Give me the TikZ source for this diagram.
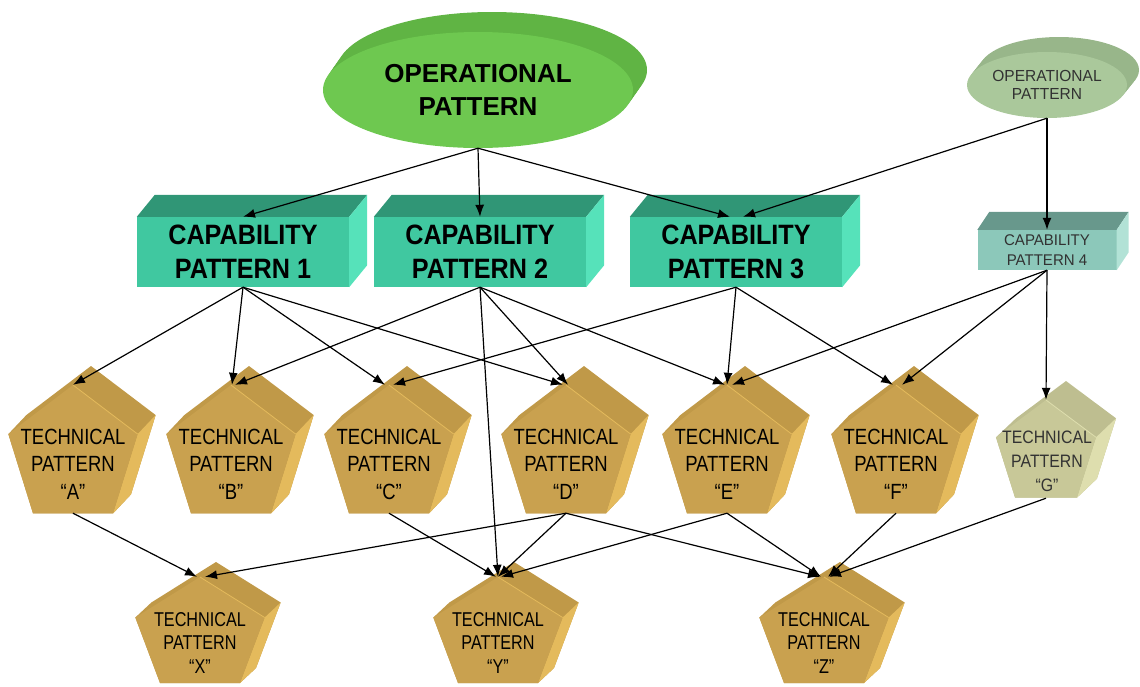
\documentclass[tikz,border=0pt]{standalone}
\usepackage{fontspec}
\setmainfont{Liberation Sans}
\newfontfamily\fOp{Liberation Sans}
\newfontfamily\fCap{Liberation Sans}[FakeStretch=0.9]
\newfontfamily\fTech{Liberation Sans}[FakeStretch=0.84]
\newfontfamily\fTechB{Liberation Sans}[FakeStretch=0.81]
\newfontfamily\fSmall{Liberation Sans}[FakeStretch=0.97]
\newfontfamily\fGee{Liberation Sans}[FakeStretch=0.88]
\usetikzlibrary{shapes.geometric,arrows.meta,calc}
\definecolor{opfront}{RGB}{110,200,80}
\definecolor{opback}{RGB}{96,180,68}
\definecolor{optwofront}{RGB}{170,200,155}
\definecolor{optwoback}{RGB}{152,182,138}
\definecolor{capfront}{RGB}{64,200,160}
\definecolor{captop}{RGB}{48,150,118}
\definecolor{capside}{RGB}{86,226,186}
\definecolor{capfourfront}{RGB}{140,200,186}
\definecolor{capfourtop}{RGB}{104,152,140}
\definecolor{capfourside}{RGB}{178,226,214}
\definecolor{tfront}{RGB}{201,161,79}
\definecolor{ttop}{RGB}{192,153,72}
\definecolor{tside}{RGB}{228,186,92}
\definecolor{gfront}{RGB}{200,200,152}
\definecolor{gtop}{RGB}{190,190,144}
\definecolor{gside}{RGB}{222,222,174}
\definecolor{smalltext}{RGB}{50,50,50}
\newcommand\pentprism[9]{%
  \pgfmathsetmacro\pAx{#1}\pgfmathsetmacro\pAy{#2-#4}%
  \pgfmathsetmacro\pBx{#1+0.951*#3}\pgfmathsetmacro\pBy{#2-0.309*#4}%
  \pgfmathsetmacro\pCx{#1+0.588*#3}\pgfmathsetmacro\pCy{#2+0.809*#4}%
  \pgfmathsetmacro\pDx{#1-0.588*#3}\pgfmathsetmacro\pDy{#2+0.809*#4}%
  \pgfmathsetmacro\pEx{#1-0.951*#3}\pgfmathsetmacro\pEy{#2-0.309*#4}%
  \fill[#8] (\pEx,\pEy) -- ({\pEx+(#5)},{\pEy+(#6)}) -- ({\pAx+(#5)},{\pAy+(#6)})
     -- ({\pBx+(#5)},{\pBy+(#6)}) -- ({\pCx+(#5)},{\pCy+(#6)}) -- (\pCx,\pCy) -- (\pDx,\pDy) -- cycle;
  \fill[#9] (\pBx,\pBy) -- ({\pBx+(#5)},{\pBy+(#6)}) -- ({\pCx+(#5)},{\pCy+(#6)}) -- (\pCx,\pCy) -- cycle;
  \fill[#7] (\pAx,\pAy) -- (\pBx,\pBy) -- (\pCx,\pCy) -- (\pDx,\pDy) -- (\pEx,\pEy) -- cycle;
  \draw[#9, line width=0.8pt] (\pAx,\pAy) -- (\pBx,\pBy);
}
\newcommand\boxfaces[5]{%
  \fill[#4] (#1.north west) -- (#1.north east) -- ($(#1.north east)+(#2,#3)$) -- ($(#1.north west)+(#2,#3)$) -- cycle;
  \fill[#5] (#1.north east) -- ($(#1.north east)+(#2,#3)$) -- ($(#1.south east)+(#2,#3)$) -- (#1.south east) -- cycle;
}
\tikzset{
  conn/.style={-{Latex[length=12pt,width=9pt]}, line width=1.2pt, black},
  opbig/.style={ellipse, fill=opfront, minimum width=310pt, minimum height=116pt, inner sep=0pt,
    align=center, font=\fOp\bfseries\fontsize{26}{33}\selectfont},
  opsmall/.style={ellipse, fill=optwofront, minimum width=160pt, minimum height=66pt, inner sep=0pt,
    align=center, text=smalltext, font=\fSmall\fontsize{16}{18}\selectfont},
  capnode/.style={rectangle, fill=capfront, minimum width=212pt, minimum height=70pt, inner sep=0pt,
    align=center, font=\fCap\bfseries\fontsize{28}{34}\selectfont},
  capsmall/.style={rectangle, fill=capfourfront, minimum width=139pt, minimum height=40pt, inner sep=0pt,
    align=center, text=smalltext, font=\fSmall\fontsize{15.5}{20}\selectfont},
  techbox/.style={rectangle, inner sep=0pt, minimum width=129pt, minimum height=128pt},
  techboxg/.style={rectangle, inner sep=0pt, minimum width=100pt, minimum height=98pt},
  techboxb/.style={rectangle, inner sep=0pt, minimum width=129pt, minimum height=106pt},
  techtext/.style={align=center, inner sep=0pt, font=\fTech\fontsize{22}{27.5}\selectfont},
  techtextb/.style={align=center, inner sep=0pt, font=\fTechB\fontsize{20}{23.5}\selectfont},
  techtextg/.style={align=center, inner sep=0pt, text=smalltext, font=\fGee\fontsize{18}{24}\selectfont},
}
\begin{document}
\begin{tikzpicture}[x=1pt,y=-1pt]
\useasboundingbox (0,0) rectangle (1140,686);
% operational patterns
\foreach \t in {0.2,0.4,0.6,0.8,1.0}
  \fill[opback] ({478+14*\t},{90-20*\t}) ellipse [x radius=155pt, y radius=58pt];
\node[opbig] (OP) at (478,90) {OPERATIONAL\\PATTERN};
\foreach \t in {0.2,0.4,0.6,0.8,1.0}
  \fill[optwoback] ({1047+12*\t},{85-15*\t}) ellipse [x radius=80pt, y radius=33pt];
\node[opsmall] (OP2) at (1047,85) {OPERATIONAL\\PATTERN};
% capability patterns
\node[capnode] (C1) at (243,252) {CAPABILITY\\PATTERN 1};
\node[capnode] (C2) at (480,252) {CAPABILITY\\PATTERN 2};
\node[capnode] (C3) at (736,252) {CAPABILITY\\PATTERN 3};
\node[capsmall] (C4) at (1047,250) {CAPABILITY\\PATTERN 4};
\boxfaces{C1}{18}{-22}{captop}{capside}
\boxfaces{C2}{18}{-22}{captop}{capside}
\boxfaces{C3}{18}{-22}{captop}{capside}
\boxfaces{C4}{12}{-18}{capfourtop}{capfourside}
% technical patterns, top row
\pentprism{73}{456}{68}{71}{18}{-19}{tfront}{ttop}{tside}
\pentprism{231}{456}{68}{71}{18}{-19}{tfront}{ttop}{tside}
\pentprism{389}{456}{68}{71}{18}{-19}{tfront}{ttop}{tside}
\pentprism{566}{456}{68}{71}{18}{-19}{tfront}{ttop}{tside}
\pentprism{727}{456}{68}{71}{18}{-19}{tfront}{ttop}{tside}
\pentprism{896}{456}{68}{71}{18}{-19}{tfront}{ttop}{tside}
\pentprism{1046}{454}{52.6}{54}{20}{-19}{gfront}{gtop}{gside}
\node[techbox] (A) at (73,449) {};
\node[techbox] (B) at (231,449) {};
\node[techbox] (C) at (389,449) {};
\node[techbox] (D) at (566,449) {};
\node[techbox] (E) at (727,449) {};
\node[techbox] (F) at (896,449) {};
\node[techboxg] (G) at (1046,449) {};
\node[techtext] (At) at (73,464) {TECHNICAL\\PATTERN\\“A”};
\node[techtext] (Bt) at (231,464) {TECHNICAL\\PATTERN\\“B”};
\node[techtext] (Ct) at (389,464) {TECHNICAL\\PATTERN\\“C”};
\node[techtext] (Dt) at (566,464) {TECHNICAL\\PATTERN\\“D”};
\node[techtext] (Et) at (727,464) {TECHNICAL\\PATTERN\\“E”};
\node[techtext] (Ft) at (896,464) {TECHNICAL\\PATTERN\\“F”};
\node[techtextg] (Gt) at (1047,461) {TECHNICAL\\PATTERN\\“G”};
% technical patterns, bottom row
\pentprism{200}{635.6}{68}{58.6}{16}{-15}{tfront}{ttop}{tside}
\pentprism{498}{635.6}{68}{58.6}{16}{-15}{tfront}{ttop}{tside}
\pentprism{824}{635.6}{68}{58.6}{16}{-15}{tfront}{ttop}{tside}
\node[techboxb] (X) at (200,630) {};
\node[techboxb] (Y) at (498,630) {};
\node[techboxb] (Z) at (824,630) {};
\node[techtextb] (Xt) at (200,643) {TECHNICAL\\PATTERN\\“X”};
\node[techtextb] (Yt) at (498,643) {TECHNICAL\\PATTERN\\“Y”};
\node[techtextb] (Zt) at (824,643) {TECHNICAL\\PATTERN\\“Z”};
% connectors
\draw[conn] (OP.south) -- (C1.north);
\draw[conn] (OP.south) -- (C2.north);
\draw[conn] (OP.south) -- ([xshift=-6pt]C3.north);
\draw[conn] (OP2.south) -- ([xshift=7pt]C3.north);
\draw[conn] (OP2.south) -- (C4.north);
\draw[conn] (C1.south) -- (A.north);
\draw[conn] (C1.south) -- ([xshift=1pt]B.north);
\draw[conn] (C1.south) -- ([xshift=-4pt]C.north);
\draw[conn] (C1.south) -- ([xshift=-3pt]D.north);
\draw[conn] (C2.south) -- ([xshift=4pt]B.north);
\draw[conn] (C2.south) -- ([xshift=2pt]D.north);
\draw[conn] (C2.south) -- ([xshift=-2pt]E.north);
\draw[conn] (C2.south) -- (Y.north);
\draw[conn] (C3.south) -- ([xshift=4pt]C.north);
\draw[conn] (C3.south) -- (E.north);
\draw[conn] (C3.south) -- ([xshift=-3pt]F.north);
\draw[conn] (C4.south) -- ([xshift=5pt]E.north);
\draw[conn] (C4.south) -- ([xshift=6pt]F.north);
\draw[conn] (C4.south) -- (G.north);
\draw[conn] (A.south) -- ([xshift=-3pt]X.north);
\draw[conn] (D.south) -- ([xshift=5pt]X.north);
\draw[conn] (C.south) -- ([xshift=-2pt]Y.north);
\draw[conn] (D.south) -- (Y.north);
\draw[conn] (E.south) -- ([xshift=3pt]Y.north);
\draw[conn] (D.south) -- ([xshift=-4pt]Z.north);
\draw[conn] (E.south) -- ([xshift=-3pt]Z.north);
\draw[conn] (F.south) -- ([xshift=4pt]Z.north);
\draw[conn] (G.south) -- ([xshift=5pt]Z.north);
\end{tikzpicture}
\end{document}
